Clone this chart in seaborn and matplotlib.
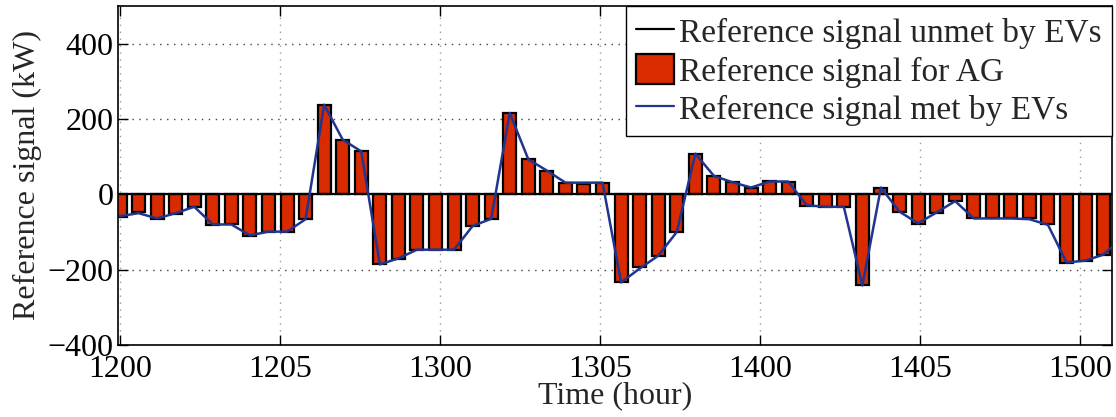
import numpy as np
import pandas as pd
import matplotlib
matplotlib.use("Agg")
import matplotlib.pyplot as plt
import seaborn as sns
from matplotlib.lines import Line2D
from matplotlib.patches import Patch

# ---- data ----
ag_signal = [-60, -48, -66, -51, -33, -82, -80, -111, -99, -99, -66,
             238, 145, 114,
             -186, -172, -147, -147, -147, -84, -65,
             216, 93, 63, 31, 28, 29,
             -234, -193, -163, -100,
             108, 49, 34, 17, 36, 34,
             -31, -33, -33, -242, 18,
             -48, -79, -50, -18, -64, -64, -64, -64, -79,
             -181, -178, -162, -115]
met_by_evs = [-58, -50, -64, -50, -33, -80, -80, -109, -99, -99, -66,
              238, 145, 114,
              -186, -170, -147, -147, -147, -84, -65,
              216, 93, 63, 31, 31, 31,
              -234, -197, -163, -100,
              108, 49, 32, 18, 34, 34,
              -29, -33, -33, -242, 18,
              -46, -77, -48, -18, -64, -64, -64, -66, -81,
              -181, -176, -160, -115]
unmet_by_evs = [0, 0, 0, 0, 0, 0, 0, 0, 0, 0, 0, 0, 0, 0, 0, 0, 0, 0, 0, 0,
                0, 0, 0, 0, 0, 0, 0, 0, 0, 0, 0, 0, 0, 0, 0, 0, 0, 0, 0, 0,
                0, 0, 0, 0, 0, 0, 0, 0, 0, 0, 0, 0, 0, 0, 0]
step = list(range(len(ag_signal)))
tick_labels = ["1200", "1205", "1300", "1305", "1400", "1405", "1500"]
y_ticks = [-400, -200, 0, 200, 400]

df = pd.DataFrame({"step": step, "ag": ag_signal, "met": met_by_evs,
                   "unmet": unmet_by_evs})

# ---- style ----
sns.set_style("ticks")
plt.rcParams["font.family"] = ["Liberation Serif", "DejaVu Serif"]
FS = 23
LEG_FS = 24

BAR_COLOR = "#d92a00"
LINE_BLUE = "#1f3590"

fig = plt.figure(figsize=(11.16, 4.17), dpi=100)
ax = fig.add_axes([117.5 / 1116, 1 - 345 / 417, (1112 - 117.5) / 1116, (345 - 6) / 417])

sns.barplot(data=df, x="step", y="ag", native_scale=True, width=0.7,
            color=BAR_COLOR, saturation=1, edgecolor="black", linewidth=1.6,
            errorbar=None, ax=ax, zorder=2)
sns.lineplot(data=df, x="step", y="unmet", color="black", linewidth=1.6,
             ax=ax, zorder=3)
sns.lineplot(data=df, x="step", y="met", color=LINE_BLUE, linewidth=1.8,
             ax=ax, zorder=4)

# axes limits / ticks
tick_spacing = 160 / 18.56
ax.set_xlim(-0.135, 53.45)
ax.set_ylim(-400, 500)
ax.set_xticks([i * tick_spacing for i in range(len(tick_labels))])
ax.set_xticklabels(tick_labels)
ax.set_yticks(y_ticks)
ax.tick_params(axis="both", which="both", direction="in", length=7, width=1,
               top=True, right=True, labelsize=FS, colors="black")
ax.tick_params(axis="x", pad=7)
ax.tick_params(axis="y", pad=3)

ax.xaxis.grid(True, linestyle=(0, (1, 4)), color="0.6", linewidth=1.0)
ax.yaxis.grid(True, linestyle=(0, (1, 4)), color="0.25", linewidth=1.0)
ax.set_axisbelow(True)
for s in ax.spines.values():
    s.set_color("black")
    s.set_linewidth(1.2)

ax.set_xlabel("Time (hour)", fontsize=FS, labelpad=-2)
ax.set_ylabel("Reference signal (kW)", fontsize=FS, labelpad=4)

handles = [Line2D([], [], color="black", linewidth=1.6),
           Patch(facecolor=BAR_COLOR, edgecolor="black", linewidth=1.6),
           Line2D([], [], color=LINE_BLUE, linewidth=1.6)]
labels = ["Reference signal unmet by EVs", "Reference signal for AG",
          "Reference signal met by EVs"]
leg = ax.legend(handles, labels, loc="upper right", fontsize=LEG_FS,
                frameon=True, fancybox=False, borderaxespad=0,
                handlelength=1.15, handleheight=1.0, handletextpad=0.15,
                labelspacing=0.15, borderpad=0.3)
leg.get_frame().set_edgecolor("black")
leg.get_frame().set_linewidth(1.0)
leg.get_frame().set_alpha(1)

fig.savefig("out.png", dpi=100)
